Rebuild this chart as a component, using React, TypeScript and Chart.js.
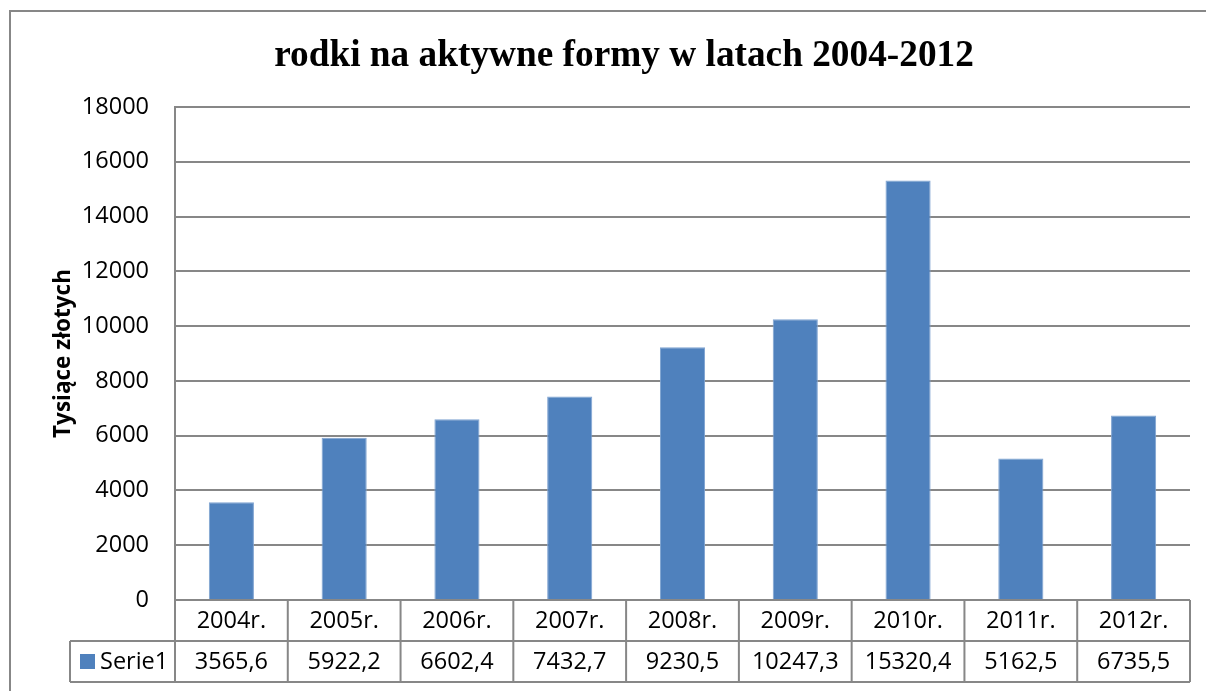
import React, { useEffect, useRef } from 'react';
import { Chart, registerables } from 'chart.js';

Chart.register(...registerables);

const titleText = 'rodki na aktywne formy w latach 2004-2012';
const yAxisTitle = 'Tysiące złotych';
const seriesName = 'Serie1';
const categories = ['2004r.', '2005r.', '2006r.', '2007r.', '2008r.', '2009r.', '2010r.', '2011r.', '2012r.'];
const values = [3565.6, 5922.2, 6602.4, 7432.7, 9230.5, 10247.3, 15320.4, 5162.5, 6735.5];
const valueLabels = ['3565,6', '5922,2', '6602,4', '7432,7', '9230,5', '10247,3', '15320,4', '5162,5', '6735,5'];
const yMin = 0;
const yMax = 18000;
const yStep = 2000;

const BAR_COLOR = '#4F81BD';
const LINE_COLOR = '#878787';
const FONT = '"Open Sans", Lato, sans-serif';
const TEXT_SIZE = 23.5;

const decorPlugin = {
  id: 'excelDecor',
  afterDraw(chart: any) {
    const ctx = chart.ctx as CanvasRenderingContext2D;
    const area = chart.chartArea;
    const xs = chart.scales.x;
    const n = categories.length;
    const w = (xs.right - xs.left) / n;
    const rowH = 41;
    const top = area.bottom;
    const mid = top + rowH;
    const bot = mid + rowH;
    const legendLeft = 70;

    ctx.save();
    // outer chart border
    ctx.strokeStyle = LINE_COLOR;
    ctx.lineWidth = 2;
    ctx.beginPath();
    ctx.moveTo(10, chart.height);
    ctx.lineTo(10, 11);
    ctx.lineTo(chart.width, 11);
    ctx.stroke();

    // title
    ctx.fillStyle = '#000';
    ctx.font = 'bold 37.3px "Liberation Serif", "Times New Roman", serif';
    ctx.textAlign = 'center';
    ctx.textBaseline = 'alphabetic';
    ctx.fillText(titleText, 624, 66);

    // data table grid
    ctx.beginPath();
    ctx.moveTo(legendLeft, mid);
    ctx.lineTo(xs.right, mid);
    ctx.moveTo(legendLeft, bot);
    ctx.lineTo(xs.right, bot);
    ctx.moveTo(legendLeft, mid);
    ctx.lineTo(legendLeft, bot);
    for (let i = 0; i <= n; i++) {
      const x = xs.left + i * w;
      ctx.moveTo(x, top);
      ctx.lineTo(x, bot);
    }
    ctx.stroke();

    // table text
    ctx.font = TEXT_SIZE + 'px ' + FONT;
    ctx.fillStyle = '#000';
    ctx.textAlign = 'center';
    ctx.textBaseline = 'middle';
    for (let i = 0; i < n; i++) {
      const cx = xs.getPixelForValue(i);
      ctx.fillText(categories[i], cx, (top + mid) / 2 + 1);
      ctx.fillText(valueLabels[i], cx, (mid + bot) / 2 + 1);
    }
    // legend key
    ctx.fillStyle = BAR_COLOR;
    ctx.fillRect(80, 654, 15, 15);
    ctx.fillStyle = '#000';
    ctx.textAlign = 'left';
    ctx.fillText(seriesName, 100, (mid + bot) / 2 + 1);
    ctx.restore();
  },
};

export default function App() {
  const ref = useRef<HTMLCanvasElement | null>(null);

  useEffect(() => {
    if (!ref.current) return;
    const chart = new Chart(ref.current, {
      type: 'bar',
      data: {
        labels: categories,
        datasets: [
          {
            label: seriesName,
            data: values,
            backgroundColor: BAR_COLOR,
            borderColor: '#7FA3D1',
            borderWidth: 1,
            barPercentage: 0.4,
            categoryPercentage: 1.0,
          },
        ],
      },
      options: {
        responsive: false,
        animation: false,
        layout: { padding: { left: 50, top: 107, right: 16, bottom: 91 } },
        plugins: {
          legend: { display: false },
          title: { display: false },
          tooltip: { enabled: false },
        },
        scales: {
          x: {
            ticks: { display: false },
            grid: { display: false, drawTicks: false },
            border: { display: false },
          },
          y: {
            min: yMin,
            max: yMax,
            ticks: {
              stepSize: yStep,
              color: '#000',
              font: { family: FONT, size: TEXT_SIZE },
              padding: 26,
              callback: (v: any) => String(v),
            },
            grid: { color: LINE_COLOR, lineWidth: 2, drawTicks: false },
            border: { display: true, color: LINE_COLOR, width: 2 },
            title: {
              display: true,
              text: yAxisTitle,
              color: '#000',
              font: { family: FONT, size: 22.5, weight: 'bold' },
              padding: 0,
            },
            afterFit: (s: any) => {
              s.width = 125;
            },
          },
        },
      },
      plugins: [decorPlugin],
    });
    return () => chart.destroy();
  }, []);

  return (
    <div style={{ position: 'fixed', left: 0, top: 0, width: 1206, height: 691, background: '#fff' }}>
      <canvas ref={ref} width={1206} height={691} />
    </div>
  );
}
